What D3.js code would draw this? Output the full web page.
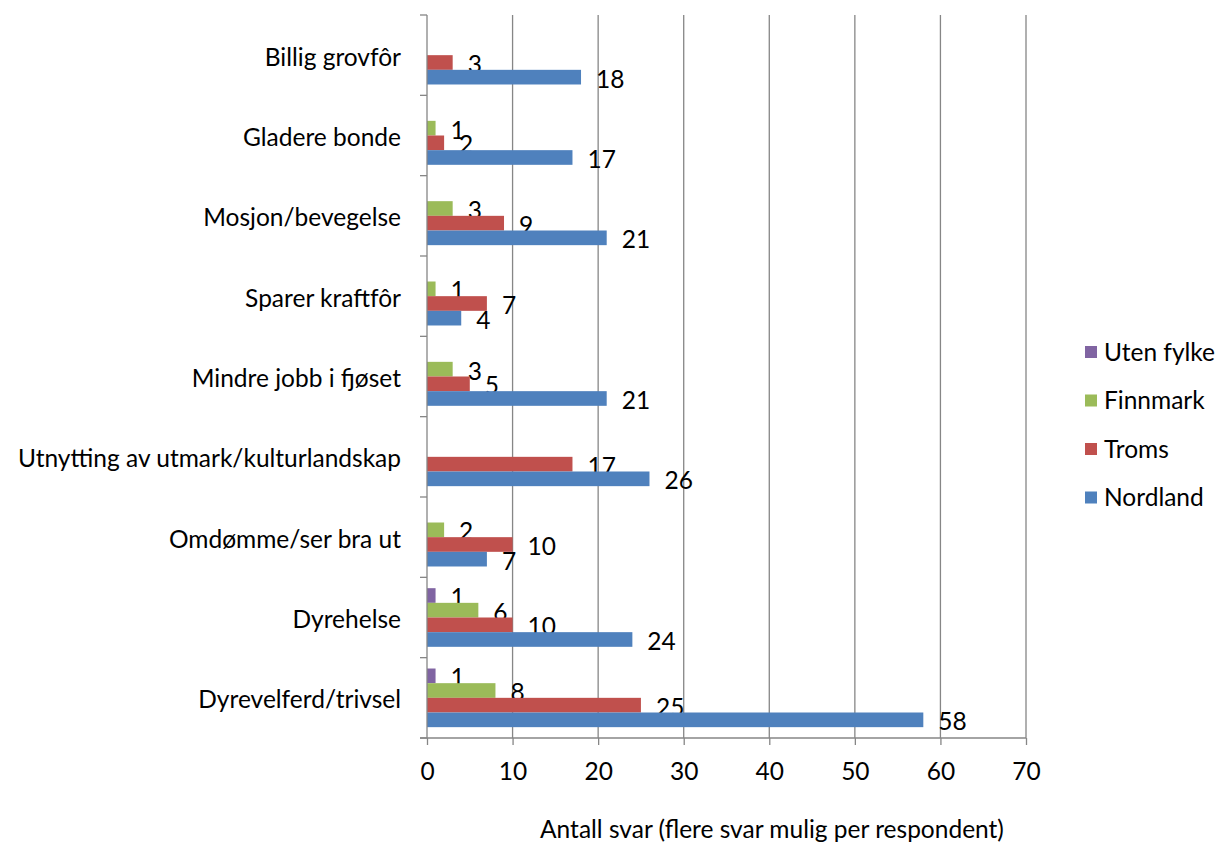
<!DOCTYPE html>
<html>
<head>
<meta charset="utf-8">
<script src="https://cdn.jsdelivr.net/npm/d3@7"></script>
<style>
  body { margin: 0; background: #fff; }
  text { font-family: Lato, "Open Sans", sans-serif; fill: #000; }
</style>
</head>
<body>
<div id="vis"></div>
<script>
const categories = [
  'Billig grovfôr',
  'Gladere bonde',
  'Mosjon/bevegelse',
  'Sparer kraftfôr',
  'Mindre jobb i fjøset',
  'Utnytting av utmark/kulturlandskap',
  'Omdømme/ser bra ut',
  'Dyrehelse',
  'Dyrevelferd/trivsel'
];

// top to bottom inside each group
const seriesNames = ['Uten fylke', 'Finnmark', 'Troms', 'Nordland'];

const utenFylke = [null, null, null, null, null, null, null, 1, 1];
const finnmark  = [null, 1, 3, 1, 3, null, 2, 6, 8];
const troms     = [3, 2, 9, 7, 5, 17, 10, 10, 25];
const nordland  = [18, 17, 21, 4, 21, 26, 7, 24, 58];

const xTicks = [0, 10, 20, 30, 40, 50, 60, 70];
const axisTitle = 'Antall svar (flere svar mulig per respondent)';

const seriesValues = {
  'Uten fylke': utenFylke,
  'Finnmark': finnmark,
  'Troms': troms,
  'Nordland': nordland
};

const colors = {
  'Uten fylke': '#8064A2',
  'Finnmark': '#9BBB59',
  'Troms': '#C0504D',
  'Nordland': '#4F81BD'
};

const width = 1217;
const height = 843;
const margin = { top: 15, left: 427, right: 191, bottom: 105 };
const fontSize = 24.5;

const svg = d3.select('#vis')
              .append('svg')
                .attr('width', width)
                .attr('height', height);

const x = d3.scaleLinear()
            .domain([0, 70])
            .range([margin.left, width - margin.right]);

const y0 = d3.scaleBand()
             .domain(categories)
             .range([margin.top, height - margin.bottom])
             .paddingInner(0.27)
             .paddingOuter(0.135);

const y1 = d3.scaleBand()
             .domain(seriesNames)
             .range([0, y0.bandwidth()]);

const gridColor = '#868686';
const plotBottom = height - margin.bottom;

// vertical gridlines
svg.append('g')
  .selectAll('line')
  .data(xTicks.filter((d) => d > 0))
  .enter()
  .append('line')
    .attr('x1', (d) => x(d))
    .attr('x2', (d) => x(d))
    .attr('y1', margin.top)
    .attr('y2', plotBottom)
    .attr('stroke', gridColor)
    .attr('stroke-width', 1.3);

// bars
const groups = svg.append('g')
  .selectAll('g')
  .data(categories)
  .enter()
  .append('g')
    .attr('transform', (c) => 'translate(0,' + y0(c) + ')');

const cells = groups.selectAll('g')
  .data((c, i) => seriesNames.map((s) => ({ s: s, v: seriesValues[s][i] })).filter((d) => d.v !== null))
  .enter()
  .append('g');

cells.append('rect')
  .attr('x', x(0))
  .attr('y', (d) => y1(d.s))
  .attr('width', (d) => x(d.v) - x(0))
  .attr('height', y1.bandwidth())
  .attr('fill', (d) => colors[d.s]);

cells.append('text')
  .attr('x', (d) => x(d.v) + 15)
  .attr('y', (d) => y1(d.s) + y1.bandwidth() / 2 + 2)
  .attr('dy', '0.35em')
  .attr('font-size', fontSize)
  .text((d) => d.v);

// bottom axis
const xAxis = d3.axisBottom(x)
                .tickValues(xTicks)
                .tickSize(7)
                .tickPadding(18);

const gx = svg.append('g')
  .attr('transform', 'translate(0,' + plotBottom + ')')
  .call(xAxis);

gx.select('.domain').remove();
gx.selectAll('.tick line').attr('stroke', gridColor).attr('stroke-width', 1.3);
gx.selectAll('.tick text').attr('font-size', fontSize).attr('font-family', 'Lato, sans-serif');
gx.append('line')
  .attr('x1', x(0) - 7)
  .attr('x2', x(70))
  .attr('stroke', gridColor)
  .attr('stroke-width', 1.3);

// left axis
const gy = svg.append('g');
gy.append('line')
  .attr('x1', x(0))
  .attr('x2', x(0))
  .attr('y1', margin.top)
  .attr('y2', plotBottom)
  .attr('stroke', gridColor)
  .attr('stroke-width', 1.3);

const bounds = categories.map((c) => y0(c) - y0.step() * y0.paddingInner() / 2)
                         .concat([plotBottom]);
gy.selectAll('line.tick')
  .data(bounds)
  .enter()
  .append('line')
    .attr('class', 'tick')
    .attr('x1', x(0) - 7)
    .attr('x2', x(0))
    .attr('y1', (d) => d)
    .attr('y2', (d) => d)
    .attr('stroke', gridColor)
    .attr('stroke-width', 1.3);

gy.selectAll('text')
  .data(categories)
  .enter()
  .append('text')
    .attr('x', x(0) - 26)
    .attr('y', (c) => y0(c) + y0.bandwidth() / 2 + 2)
    .attr('dy', '0.35em')
    .attr('text-anchor', 'end')
    .attr('font-size', fontSize)
    .text((c) => c);

// axis title
svg.append('text')
  .attr('x', 772)
  .attr('y', 838)
  .attr('text-anchor', 'middle')
  .attr('font-size', fontSize)
  .text(axisTitle);

// legend
const legend = svg.append('g')
  .selectAll('g')
  .data(seriesNames)
  .enter()
  .append('g')
    .attr('transform', (d, i) => 'translate(1085,' + (352 + i * 48.5) + ')');

legend.append('rect')
  .attr('x', 0)
  .attr('y', -6)
  .attr('width', 12)
  .attr('height', 12)
  .attr('fill', (d) => colors[d]);

legend.append('text')
  .attr('x', 19)
  .attr('dy', '0.35em')
  .attr('font-size', fontSize)
  .text((d) => d);
</script>
</body>
</html>
